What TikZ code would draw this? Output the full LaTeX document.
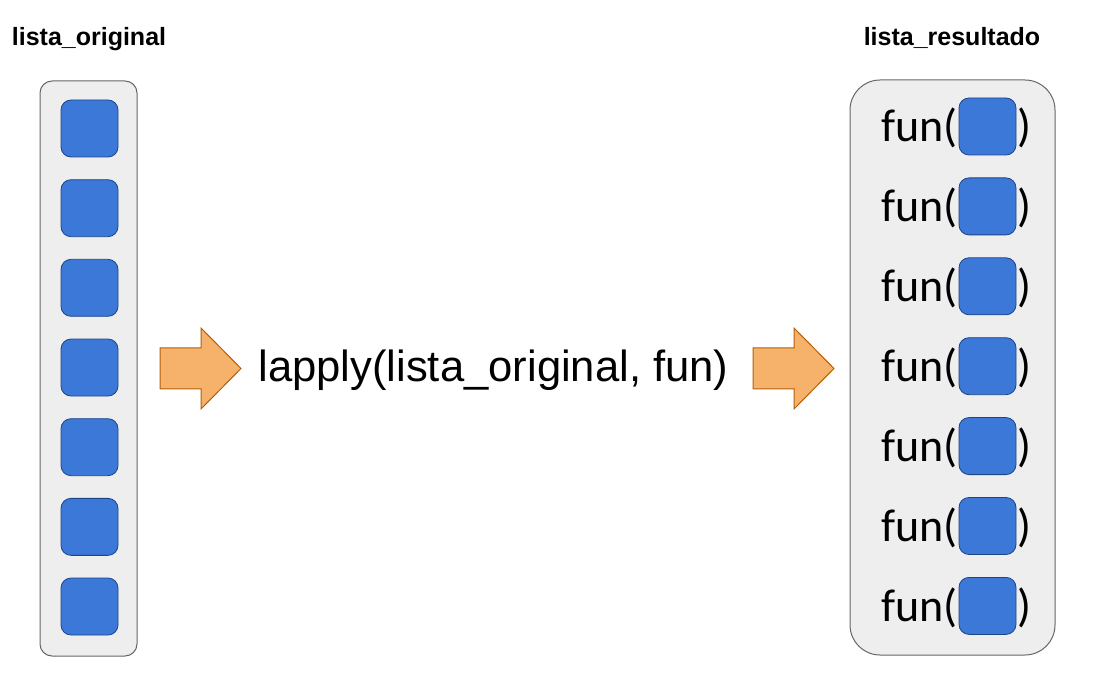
\documentclass[tikz,border=0pt]{standalone}
\usepackage{fontspec}
\setmainfont{Liberation Sans}
\newfontfamily\calfont{Carlito}
\definecolor{boxfill}{HTML}{EEEEEE}
\definecolor{boxedge}{HTML}{666666}
\definecolor{itemblue}{HTML}{3C78D8}
\definecolor{itemedge}{HTML}{1C4587}
\definecolor{arrowfill}{HTML}{F6B26B}
\definecolor{arrowedge}{HTML}{B45F06}
\begin{document}
\begin{tikzpicture}[x=1pt,y=-1pt,
  container/.style={draw=boxedge, fill=boxfill, line width=1pt, inner sep=0pt},
  item/.style={draw=itemedge, fill=itemblue, rounded corners=10pt, minimum width=57pt, minimum height=57pt, inner sep=0pt, line width=0.8pt},
  blockarrow/.style={draw=arrowedge, fill=arrowfill, line width=1pt, line join=miter},
  title/.style={font=\bfseries\fontsize{25}{29}\selectfont, inner sep=0pt, anchor=base},
  funtext/.style={font=\calfont\fontsize{46}{52}\selectfont, inner sep=0pt},
  midtext/.style={font=\fontsize{43.6}{50}\selectfont, inner sep=0pt, anchor=base}]
\useasboundingbox (0,0) rectangle (1096,676);
% titles
\node[title] (t1) at (89,46) {lista\_original};
\node[title] (t2) at (952,46) {lista\_resultado};
% containers
\node[container, rounded corners=12pt, minimum width=97pt, minimum height=575pt] (L) at (88.5,368.5) {};
\node[container, rounded corners=30pt, minimum width=205pt, minimum height=575pt] (R) at (952.5,367.5) {};
% left items
\foreach \i in {0,...,6}{
  \node[item] (a\i) at (89.5,{128.5+79.67*\i}) {};
}
% right items
\foreach \i in {0,...,6}{
  \node[item] (b\i) at (987.5,{126.5+79.9*\i}) {};
  \node[funtext, anchor=base east] (f\i) at (958,{142+79.9*\i}) {fun(};
  \node[funtext, anchor=base west] (p\i) at (1017.5,{142+79.9*\i}) {)};
}
% block arrows
\draw[blockarrow] (160,348) -- (201,348) -- (201,328) -- (241,368.5) -- (201,409) -- (201,389) -- (160,389) -- cycle;
\draw[blockarrow] (753,348) -- (794,348) -- (794,328) -- (834,368.5) -- (794,409) -- (794,389) -- (753,389) -- cycle;
% middle text
\node[midtext] (mid) at (493.5,382) {lapply(lista\_original, fun)};
\end{tikzpicture}
\end{document}
